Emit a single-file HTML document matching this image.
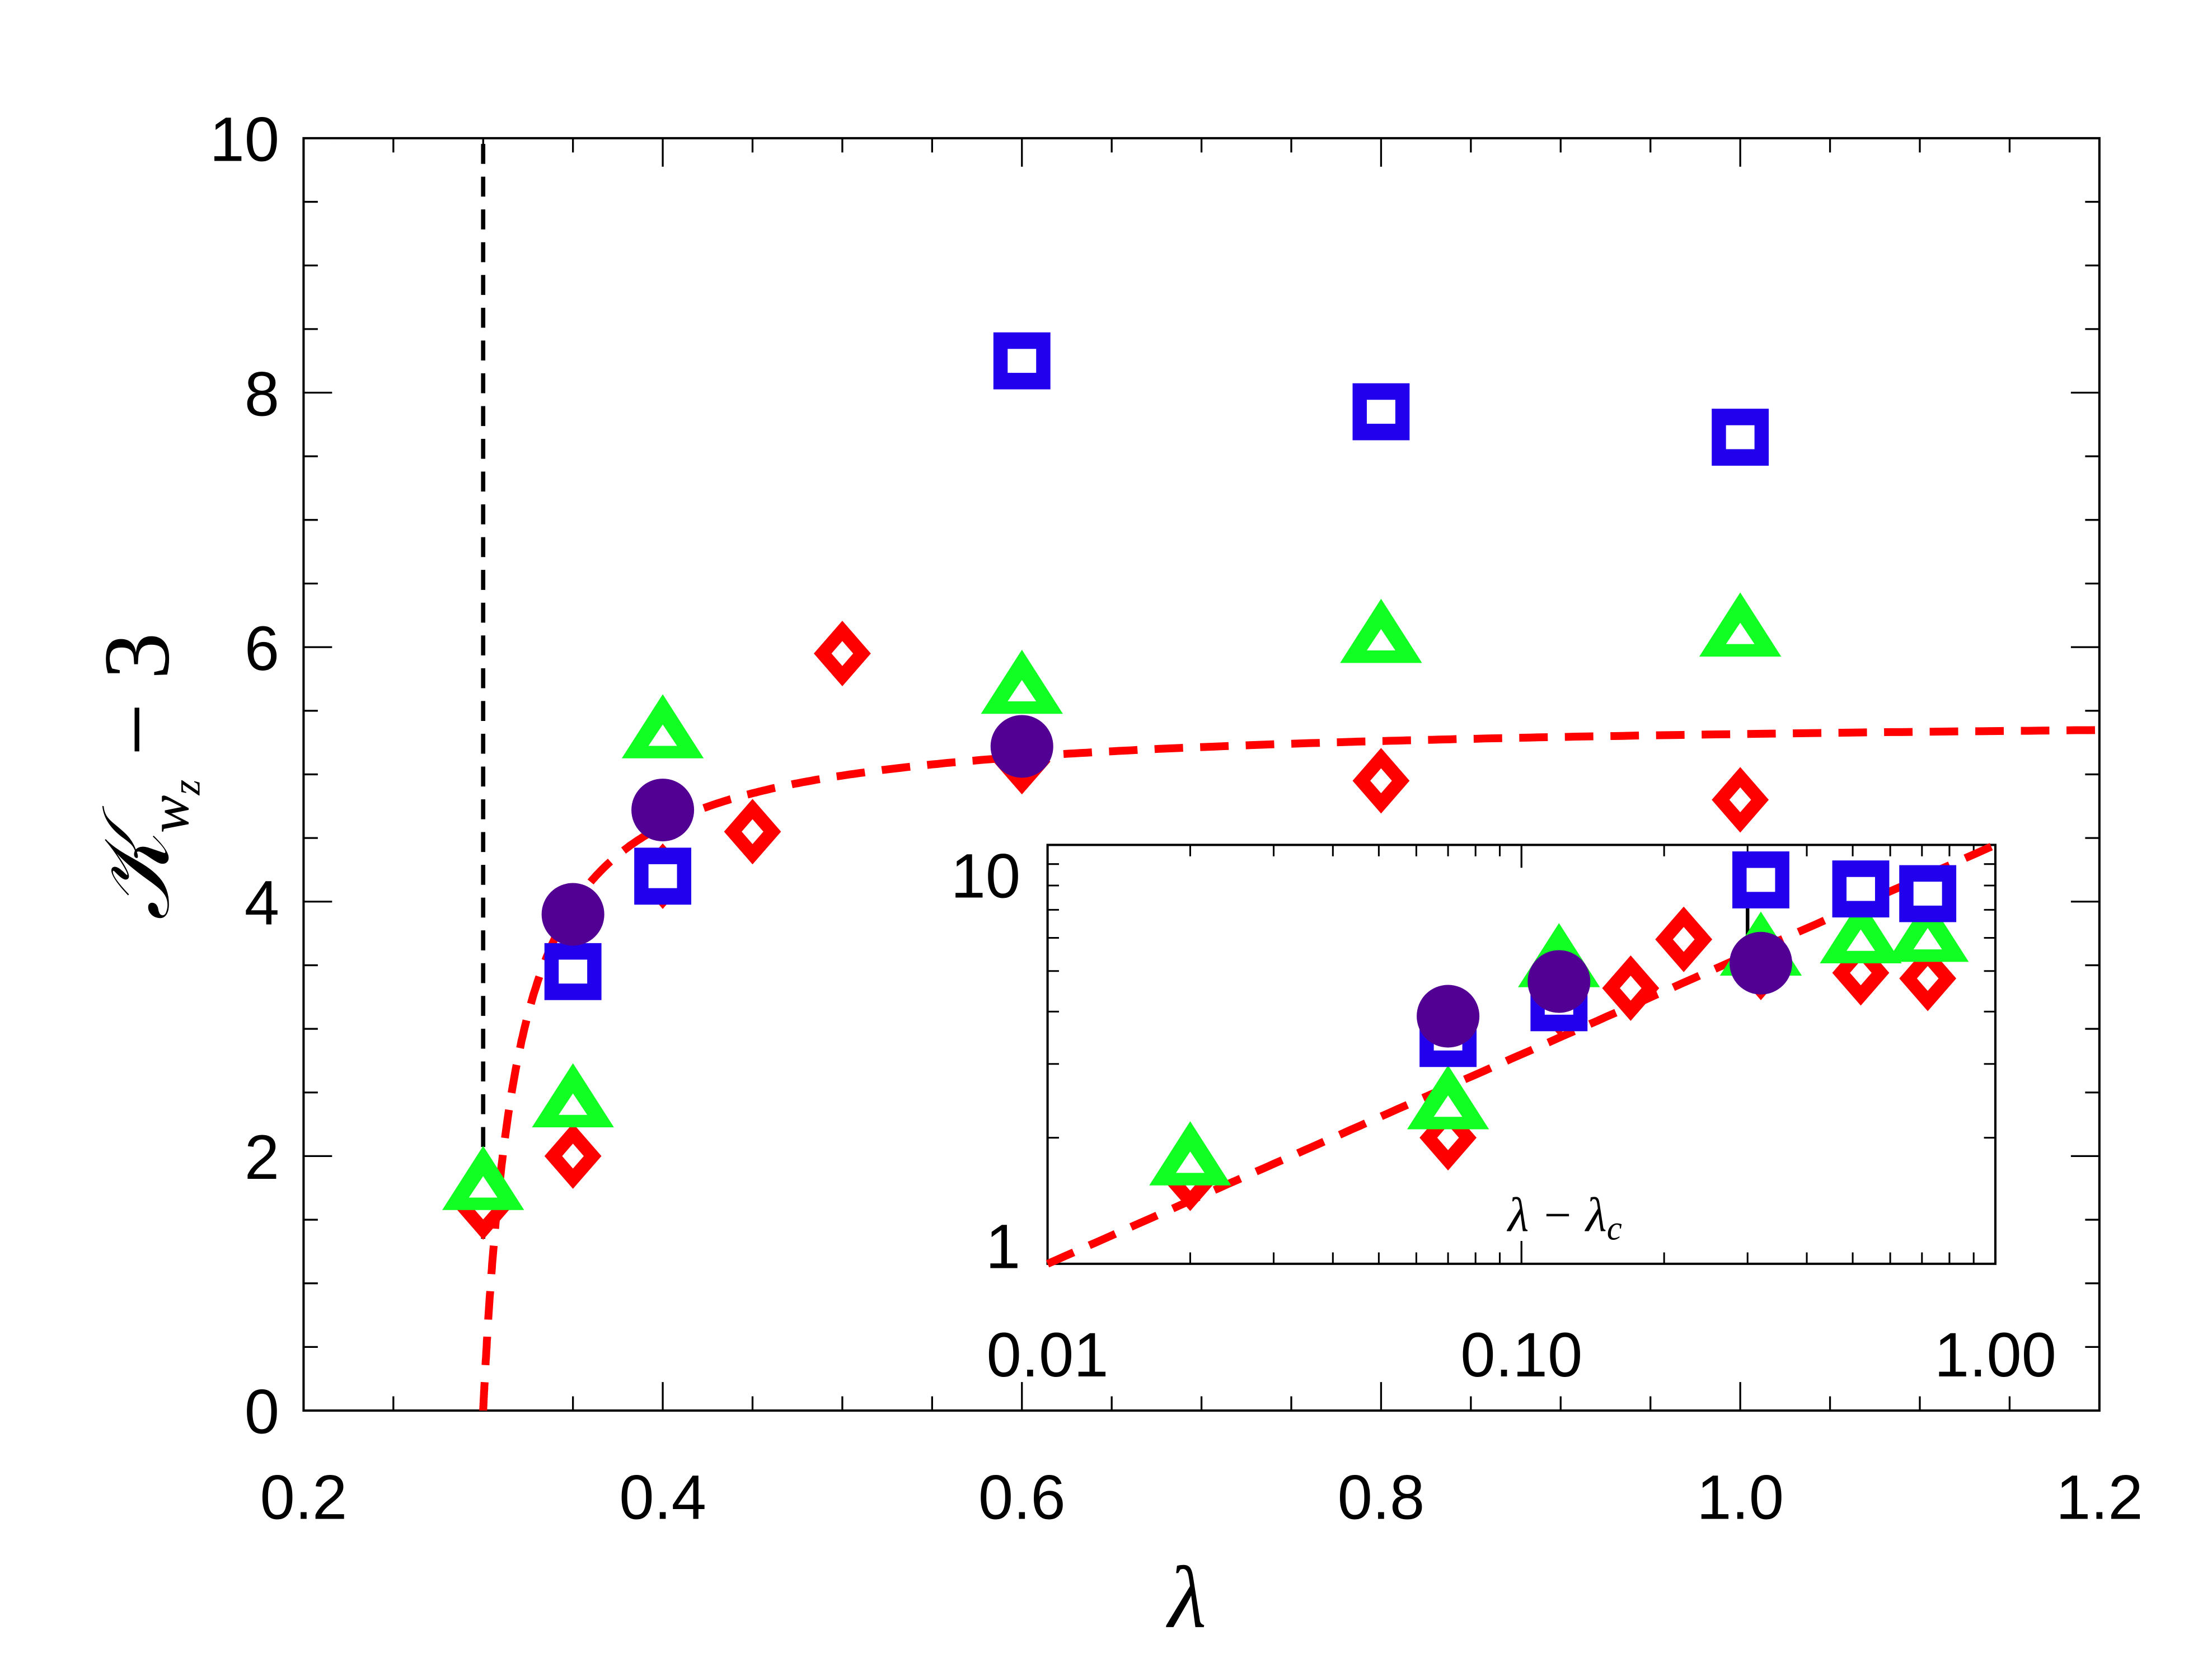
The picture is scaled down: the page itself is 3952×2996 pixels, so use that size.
<!DOCTYPE html>
<html><head><meta charset="utf-8"><style>
html,body{margin:0;padding:0;background:#fff;}
svg{display:block;}
text{font-family:"Liberation Sans",sans-serif;fill:#000;}
</style></head><body>
<svg id="chart" xmlns="http://www.w3.org/2000/svg" width="3952" height="2996" viewBox="0 0 1552 1177" preserveAspectRatio="none">
<rect x="0" y="0" width="1552" height="1177" fill="#fff"/>
<g id="main"></g>
<g id="inset"></g>
</svg>
<script>
// ---- data ----
const redLam = [0.3, 0.35, 0.4, 0.45, 0.5, 0.6, 0.8, 1.0];
const redVal = [1.6, 2.0, 4.2, 4.55, 5.95, 5.1, 4.95, 4.8];
const greenLam = [0.3, 0.35, 0.4, 0.6, 0.8, 1.0];
const greenVal = [1.8, 2.45, 5.35, 5.7, 6.1, 6.15];
const blueLam = [0.35, 0.4, 0.6, 0.8, 1.0];
const blueVal = [3.45, 4.2, 8.25, 7.85, 7.65];
const purpleLam = [0.35, 0.4, 0.6];
const purpleVal = [3.9, 4.72, 5.22];
const xTickLabels = ["0.2", "0.4", "0.6", "0.8", "1.0", "1.2"];
const yTickLabels = ["0", "2", "4", "6", "8", "10"];
const insetXLabels = ["0.01", "0.10", "1.00"];
const insetYLabels = ["1", "10"];
const lambdaC = 0.3;
const lambdaCInset = 0.28;
const fitA = 5.46, fitB = 0.0188;      // main fit: A t/(t+B)
const insetFitC = 10, insetFitP = 0.5; // inset fit: C t^P

const NS = "http://www.w3.org/2000/svg";
function mk(tag, attrs, parent){const e=document.createElementNS(NS,tag);for(const k in attrs)e.setAttribute(k,attrs[k]);parent.appendChild(e);return e;}

// main axes
const L=213,R=1473,T=97,B=990;
const sx=v=>L+(v-0.2)/(1.0)*(R-L);
const sy=v=>B-v/10*(B-T);
// inset axes
const IL=735,IR=1400,IT=593,IB=887;
const isx=v=>IL+(Math.log10(v)+2)/2*(IR-IL);
const isy=v=>IB-Math.log10(v)*(IB-IT);

const main=document.getElementById('main');
const inset=document.getElementById('inset');

// main frame
const frame=mk('rect',{x:L,y:T,width:R-L,height:B-T,fill:'none',stroke:'#000','stroke-width':1.6},main);



// main ticks
for(let i=0;i<=20;i++){const v=0.2+i*0.05;const x=sx(v);const len=(i%4===0)?20:10;
  mk('line',{x1:x,y1:B,x2:x,y2:B-len,stroke:'#000','stroke-width':1.3},main);
  mk('line',{x1:x,y1:T,x2:x,y2:T+len,stroke:'#000','stroke-width':1.3},main);}
for(let i=0;i<=20;i++){const v=i*0.5;const y=sy(v);const len=(i%4===0)?20:10;
  mk('line',{x1:L,y1:y,x2:L+len,y2:y,stroke:'#000','stroke-width':1.3},main);
  mk('line',{x1:R,y1:y,x2:R-len,y2:y,stroke:'#000','stroke-width':1.3},main);}
xTickLabels.forEach((s,i)=>{const t=mk('text',{x:sx(0.2+i*0.2),y:1066,'font-size':44,'text-anchor':'middle'},main);t.textContent=s;
  
  });
yTickLabels.forEach((s,i)=>{const t=mk('text',{x:196,y:sy(i*2)+16,'font-size':44,'text-anchor':'end'},main);t.textContent=s;
  
  });

// axis titles
const xt=mk('text',{x:833,y:1142,'font-size':62,'text-anchor':'middle','font-style':'italic'},main);
xt.style.fontFamily='"Liberation Serif",serif';xt.textContent='λ';


const yt=mk('text',{x:0,y:0,'font-size':66,'text-anchor':'middle',transform:'translate(118,545) rotate(-90)'},main);
yt.style.fontFamily='"Liberation Serif",serif';
yt.innerHTML='<tspan font-style="italic">𝒦</tspan><tspan font-size="40" dy="14" font-style="italic">w</tspan><tspan font-size="28" dy="8" font-style="italic">z</tspan><tspan dy="-22"> − 3</tspan>';



// vertical critical line
const vl=mk('line',{x1:sx(lambdaC),y1:T+4,x2:sx(lambdaC),y2:sy(1.35),stroke:'#000','stroke-width':3,'stroke-dasharray':'14,9'},main);



// main fit curve
let d='';for(let i=0;i<=400;i++){const t=Math.pow(i/400,3)*0.9+0.0;const lam=lambdaC+t;const y=fitA*t/(t+fitB);d+=(i?'L':'M')+sx(lam).toFixed(1)+','+sy(y).toFixed(1);}
const fit=mk('path',{d:d,fill:'none',stroke:'#ff0000','stroke-width':5.5,'stroke-dasharray':'20,12'},main);



// markers
function diamond(g,x,y,s){const h=s*1.15;mk('path',{d:`M${x},${y-h}L${x+s},${y}L${x},${y+h}L${x-s},${y}Z`,fill:'#ff0000'},g);
  mk('path',{d:`M${x},${y-h*0.38}L${x+s*0.38},${y}L${x},${y+h*0.38}L${x-s*0.38},${y}Z`,fill:'#fff'},g);}
function tri(g,x,y,s){mk('path',{d:`M${x},${y-s}L${x+s*1.15},${y+s*0.8}L${x-s*1.15},${y+s*0.8}Z`,fill:'#11ff22'},g);
  mk('path',{d:`M${x},${y-s*0.15}L${x+s*0.4},${y+s*0.45}L${x-s*0.4},${y+s*0.45}Z`,fill:'#fff'},g);}
function sq(g,x,y,s){mk('rect',{x:x-s,y:y-s,width:2*s,height:2*s,fill:'#2200ee'},g);
  mk('rect',{x:x-s*0.5,y:y-s*0.42,width:s,height:s*0.84,fill:'#fff'},g);}
function circ(g,x,y,s){mk('circle',{cx:x,cy:y,r:s,fill:'#520094'},g);}

function drawSeries(parent,name,xs,ys,fx,fy,fn,s){const g=mk('g',{},parent);
  
  
  xs.forEach((v,i)=>fn(g,fx(v),fy(ys[i]),s));}

drawSeries(main,'red-diamond-series',redLam,redVal,sx,sy,diamond,20);
drawSeries(main,'green-triangle-series',greenLam,greenVal,sx,sy,tri,25);
drawSeries(main,'blue-square-series',blueLam,blueVal,sx,sy,sq,20);
drawSeries(main,'purple-circle-series',purpleLam,purpleVal,sx,sy,circ,22);

// ---- inset ----
const ibg=mk('rect',{x:IL,y:IT,width:IR-IL,height:IB-IT,fill:'#fff',stroke:'#000','stroke-width':1.6},inset);


for(let dec=-2;dec<0;dec++){for(let m=1;m<=10;m++){const v=m*Math.pow(10,dec);const x=isx(v);const len=(m===1||m===10)?16:8;
  mk('line',{x1:x,y1:IB,x2:x,y2:IB-len,stroke:'#000','stroke-width':1.2},inset);
  mk('line',{x1:x,y1:IT,x2:x,y2:IT+len,stroke:'#000','stroke-width':1.2},inset);}}
for(let m=1;m<=10;m++){const y=isy(m);const len=(m===1||m===10)?16:8;
  mk('line',{x1:IL,y1:y,x2:IL+len,y2:y,stroke:'#000','stroke-width':1.2},inset);
  mk('line',{x1:IR,y1:y,x2:IR-len,y2:y,stroke:'#000','stroke-width':1.2},inset);}
insetXLabels.forEach((s,i)=>{const t=mk('text',{x:isx(Math.pow(10,i-2)),y:966,'font-size':44,'text-anchor':'middle'},inset);t.textContent=s;
  
  });
insetYLabels.forEach((s,i)=>{const t=mk('text',{x:716,y:[890,630][i],'font-size':44,'text-anchor':'end'},inset);t.textContent=s;
  
  });
const ixt=mk('text',{x:1098,y:864,'font-size':34,'text-anchor':'middle','font-style':'italic'},inset);
ixt.style.fontFamily='"Liberation Serif",serif';
ixt.innerHTML='λ − λ<tspan font-size="24" dy="6">c</tspan>';



let d2='';for(let i=0;i<=100;i++){const t=Math.pow(10,-2+2*i/100);const y=insetFitC*Math.pow(t,insetFitP);d2+=(i?'L':'M')+isx(t).toFixed(1)+','+isy(y).toFixed(1);}
const ifit=mk('path',{d:d2,fill:'none',stroke:'#ff0000','stroke-width':5.5,'stroke-dasharray':'20,12'},inset);


const eb=mk('line',{x1:isx(0.3),y1:isy(9.4),x2:isx(0.3),y2:isy(4.6),stroke:'#000','stroke-width':2.5},inset);



const ix=v=>isx(v-lambdaCInset);
drawSeries(inset,'inset-red-diamond-series',redLam,redVal,ix,isy,diamond,20);
drawSeries(inset,'inset-green-triangle-series',greenLam,greenVal,ix,isy,tri,25);
drawSeries(inset,'inset-blue-square-series',blueLam,blueVal,ix,isy,sq,20);
drawSeries(inset,'inset-purple-circle-series',purpleLam,purpleVal,ix,isy,circ,22);
</script>
</body></html>
